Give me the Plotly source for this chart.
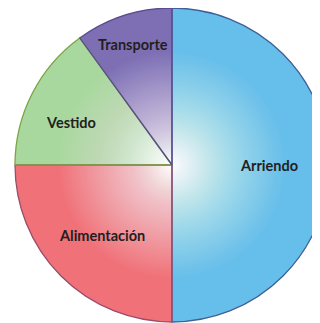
import numpy as np
import plotly.graph_objects as go

# Distribución del gasto
categorias = ["Arriendo", "Alimentación", "Vestido", "Transporte"]
porcentajes = [50, 25, 15, 10]
colores = ["#66BFEA", "#F07178", "#A9D89F", "#7E6FB5"]
bordes = ["#3F5F96", "#9A4C6C", "#7BA344", "#5B4C8E"]

# donde va cada etiqueta: fracción del radio y desfase de ángulo
radio_etq = [0.615, 0.635, 0.70, 0.81]
desfase_etq = [0, 0, -4, 0]

W, H = 321, 323
ml, mr, mt, mb = 7, 0, 0, 9
pw, ph = W - ml - mr, H - mt - mb
r = min(pw, ph) / 2

comun = dict(sort=False, direction="clockwise", rotation=0,
             textinfo="none", showlegend=False)

fig = go.Figure()
fig.add_trace(go.Pie(
    labels=categorias, values=porcentajes,
    marker=dict(colors=colores, line=dict(width=0)),
    hoverinfo="label+percent", **comun,
))

# brillo blanco radial: discos blancos semitransparentes apilados
n = 60
r0 = 0.72 * r
prev = 0.0
for i in range(n):
    rr = r0 * (1 - i / n)
    a = min((1 - rr / r0 + 1 / n) * 0.99, 0.99)
    op = 1 - (1 - a) / (1 - prev)
    prev = a
    f = rr / r
    fig.add_trace(go.Pie(
        values=[1], labels=["brillo"],
        domain=dict(x=[0.5 - f * r / pw, 0.5 + f * r / pw],
                    y=[0.5 - f * r / ph, 0.5 + f * r / ph]),
        marker=dict(colors=[f"rgba(255,255,255,{op:.4f})"], line=dict(width=0)),
        hoverinfo="skip", **comun,
    ))

# bordes de los sectores encima del brillo
fig.add_trace(go.Pie(
    labels=categorias, values=porcentajes,
    marker=dict(colors=["rgba(0,0,0,0)"] * 4, line=dict(color=bordes, width=1.3)),
    hoverinfo="skip", **comun,
))

# etiquetas en el ángulo medio de cada sector
total = sum(porcentajes)
acum = np.cumsum(porcentajes)
annotations = []
for i, cat in enumerate(categorias):
    ang = np.radians(360 * (acum[i] - porcentajes[i] / 2) / total + desfase_etq[i])
    annotations.append(dict(
        xref="paper", yref="paper",
        x=0.5 + radio_etq[i] * r * np.sin(ang) / pw,
        y=0.5 + radio_etq[i] * r * np.cos(ang) / ph,
        xanchor="center", yanchor="middle",
        text="<b>" + cat + "</b>", showarrow=False,
        font=dict(family="Lato", size=14.5, color="#231F20"),
    ))

fig.update_layout(
    width=W, height=H,
    margin=dict(l=ml, r=mr, t=mt, b=mb),
    paper_bgcolor="white",
    annotations=annotations,
)

fig.write_html("out.html")
